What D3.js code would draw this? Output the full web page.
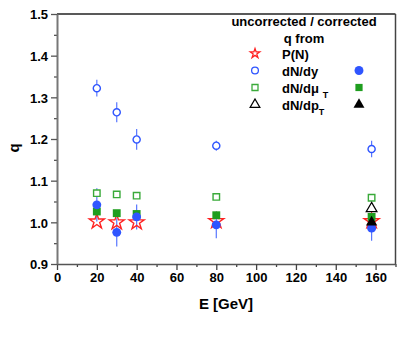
<!DOCTYPE html>
<html lang="en">
<head>
  <meta charset="UTF-8" />
  <title>q vs E</title>
  <style>
    body { margin: 0; background: #fff; }
    svg { display: block; font-family: "Liberation Sans", Arial, sans-serif; font-weight: bold; }
    .tick text { font-size: 13px; font-weight: bold; fill: #000; }
  </style>
</head>
<body>
  <svg width="415" height="353"></svg>
  <script src="https://d3js.org/d3.v7.min.js"></script>
  <script>
    const energy = [20, 30, 40, 80, 158];

    // dN/dy uncorrected (open) and corrected (filled)
    const dydOpen = [1.322, 1.264, 1.199, 1.184, 1.176];
    const dydOpenErr = [0.02, 0.024, 0.025, 0.012, 0.02];
    const dydFilled = [1.042, 0.976, 1.013, 0.994, 0.986];
    const dydFilledErr = [0.04, 0.034, 0.03, 0.032, 0.03];

    // dN/dmT uncorrected / corrected
    const mtOpen = [1.07, 1.067, 1.064, 1.061, 1.059];
    const mtFilled = [1.026, 1.022, 1.02, 1.017, 1.013];

    // P(N)
    const pn = [1.002, 1.0, 1.0, 1.003, 1.003];

    // dN/dpT, only at 158 GeV
    const ptE = [158];
    const ptOpen = [1.033];
    const ptFilled = [1.0];

    const xTicks = [0, 20, 40, 60, 80, 100, 120, 140, 160];
    const yTicks = [0.9, 1.0, 1.1, 1.2, 1.3, 1.4, 1.5];

    const svg = d3.select("svg");
    const mLeft = 57, mRight = 395.5, mTop = 14, mBottom = 264;

    const x = d3.scaleLinear().domain([0, 170]).range([mLeft, mRight]);
    const y = d3.scaleLinear().domain([0.9, 1.5]).range([mBottom, mTop]);

    const blue = "#2f55ff", green = "#1f9e1f", red = "#ff2222";

    // frame
    svg.append("line").attr("x1", mLeft).attr("x2", mRight).attr("y1", mTop).attr("y2", mTop)
      .attr("stroke", "#222").attr("stroke-width", 1.5);
    svg.append("line").attr("x1", mRight).attr("x2", mRight).attr("y1", mTop).attr("y2", mBottom)
      .attr("stroke", "#444").attr("stroke-width", 1.5);

    // minor ticks
    svg.append("g").attr("transform", `translate(0,${mBottom})`)
      .call(d3.axisBottom(x).tickValues(d3.range(10, 171, 20)).tickSize(3).tickFormat(""))
      .call(g => g.select(".domain").remove())
      .selectAll("line").attr("stroke", "#444").attr("stroke-width", 1.3);
    svg.append("g").attr("transform", `translate(${mLeft},0)`)
      .call(d3.axisLeft(y).tickValues([0.95, 1.05, 1.15, 1.25, 1.35, 1.45]).tickSize(3).tickFormat(""))
      .call(g => g.select(".domain").remove())
      .selectAll("line").attr("stroke", "#555").attr("stroke-width", 1.3);

    const xAxis = svg.append("g").attr("transform", `translate(0,${mBottom})`)
      .call(d3.axisBottom(x).tickValues(xTicks).tickSize(6).tickPadding(3).tickSizeOuter(0));
    xAxis.select(".domain").attr("stroke", "#555").attr("stroke-width", 1.6);
    xAxis.selectAll(".tick line").attr("stroke", "#444").attr("stroke-width", 1.3);

    const yAxis = svg.append("g").attr("transform", `translate(${mLeft},0)`)
      .call(d3.axisLeft(y).tickValues(yTicks).tickFormat(d3.format(".1f")).tickSize(6).tickPadding(3).tickSizeOuter(0));
    yAxis.select(".domain").attr("stroke", "#777").attr("stroke-width", 2);
    yAxis.selectAll(".tick line").attr("stroke", "#555").attr("stroke-width", 1.3);
    yAxis.selectAll(".tick text").attr("dy", "0.36em");

    svg.append("text").attr("x", 226).attr("y", 309).attr("text-anchor", "middle")
      .style("font-size", "15px").text("E [GeV]");
    svg.append("text").attr("transform", "translate(19,148) rotate(-90)").attr("text-anchor", "middle")
      .style("font-size", "15px").text("q");

    const sym = (type, size) => d3.symbol().type(type).size(size)();

    function drawErr(vals, errs, color) {
      svg.append("g").selectAll("line").data(vals).join("line")
        .attr("x1", (d, i) => x(energy[i])).attr("x2", (d, i) => x(energy[i]))
        .attr("y1", (d, i) => y(d - errs[i])).attr("y2", (d, i) => y(d + errs[i]))
        .attr("stroke", color).attr("stroke-width", 1.2).attr("opacity", 0.8);
    }

    function drawPts(xs, vals, path, fill, stroke, sw) {
      svg.append("g").selectAll("path").data(vals).join("path")
        .attr("transform", (d, i) => `translate(${x(xs[i])},${y(d)})`)
        .attr("d", path).attr("fill", fill).attr("stroke", stroke).attr("stroke-width", sw);
    }

    drawErr(dydOpen, dydOpenErr, blue);
    drawErr(dydFilled, dydFilledErr, blue);

    drawPts(energy, pn, sym(d3.symbolStar, 70), "none", red, 1.4);
    drawPts(energy, mtOpen, sym(d3.symbolSquare, 42), "#fff", "#3aaa3a", 1.4);
    drawPts(ptE, ptOpen, sym(d3.symbolTriangle, 50), "#fff", "#000", 1.2);
    drawPts(energy, mtFilled, sym(d3.symbolSquare, 62), green, "none", 0);
    drawPts(energy, dydFilled, sym(d3.symbolCircle, 62), blue, "none", 0);
    drawPts(ptE, ptFilled, sym(d3.symbolTriangle, 55), "#000", "none", 0);
    drawPts(energy, dydOpen, sym(d3.symbolCircle, 40), "#fff", blue, 1.4);

    // legend
    const lg = svg.append("g").style("font-size", "13px");
    lg.append("text").attr("x", 304).attr("y", 26).attr("text-anchor", "middle").text("uncorrected / corrected");
    lg.append("text").attr("x", 304).attr("y", 43).attr("text-anchor", "middle").text("q from");

    const rows = [
      { y: 53.5, label: ["P(N)", ""], open: [d3.symbolStar, 28, "none", red], filled: null },
      { y: 70.5, label: ["dN/dy", ""], open: [d3.symbolCircle, 36, "#fff", blue], filled: [d3.symbolCircle, 62, blue] },
      { y: 87.5, label: ["dN/dμ", "T"], open: [d3.symbolSquare, 36, "#fff", "#3aaa3a"], filled: [d3.symbolSquare, 52, green] },
      { y: 104.5, label: ["dN/dp", "T"], open: [d3.symbolTriangle, 40, "#fff", "#000"], filled: [d3.symbolTriangle, 52, "#000"] }
    ];
    rows.forEach(r => {
      lg.append("path").attr("transform", `translate(255,${r.y})`)
        .attr("d", sym(r.open[0], r.open[1])).attr("fill", r.open[2]).attr("stroke", r.open[3]).attr("stroke-width", 1.3);
      if (r.filled) {
        lg.append("path").attr("transform", `translate(359,${r.y})`)
          .attr("d", sym(r.filled[0], r.filled[1])).attr("fill", r.filled[2]);
      }
      const t = lg.append("text").attr("x", 282).attr("y", r.y + 5);
      t.append("tspan").text(r.label[0]);
      if (r.label[1]) {
        t.append("tspan").attr("dx", r.label[0] === "dN/dμ" ? 4 : 0).attr("dy", 5)
          .style("font-size", "9px").text(r.label[1]);
      }
    });
  </script>
</body>
</html>
